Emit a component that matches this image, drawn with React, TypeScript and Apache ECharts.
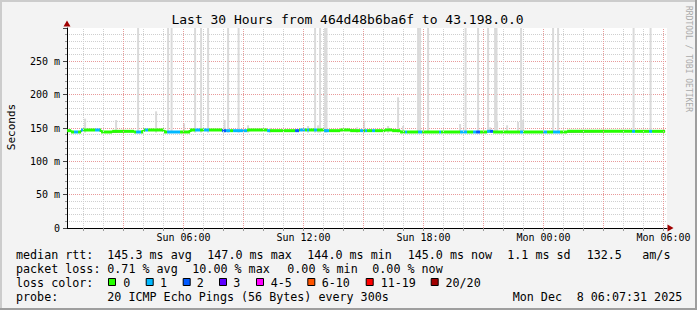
import React, { useEffect, useRef } from "react";
import * as echarts from "echarts";

const FONT = '"DejaVu Sans Mono", "Liberation Mono", monospace';

const TITLE = "Last 30 Hours from 464d48b6ba6f to 43.198.0.0";
const Y_NAME = "Seconds";
const WATERMARK = "RRDTOOL / TOBI OETIKER";

// x axis: hours since Sun 00:00
const xStartHour = 0.175;
const xEndHour = 30.175;
const xLabelHours = [6, 12, 18, 24, 30];
const gridHours = [1, 2, 3, 4, 5, 6, 7, 8, 9, 10, 11, 12, 13, 14, 15, 16, 17, 18, 19, 20, 21, 22, 23, 24, 25, 26, 27, 28, 29, 30];
const yMax = 300;
const yStep = 50;

// median rtt (ms) as step segments: start hour, value, loss class
const segStart = [0.18, 0.38, 0.53, 0.73, 0.88, 0.98, 1.58, 1.83, 1.88, 2.43,
  3.53, 3.63, 3.88, 3.98, 4.08, 4.23, 5.03, 5.18, 5.83, 6.33,
  6.58, 6.83, 7.03, 7.28, 7.93, 8.13, 8.33, 8.48, 9.18, 10.18,
  10.33, 11.58, 11.78, 11.83, 12.08, 12.18, 12.28, 12.53, 12.68, 13.03,
  13.28, 13.83, 14.33, 14.83, 14.98, 15.08, 15.18, 15.43, 15.58, 16.08,
  16.43, 16.83, 17.08, 17.18, 17.73, 17.93, 18.78, 18.88, 19.83, 20.18,
  20.48, 20.63, 20.83, 21.18, 21.33, 21.48, 21.83, 22.83, 22.98, 23.98,
  24.18, 24.48, 24.83, 25.18, 28.43, 28.58, 29.28, 29.43];
const segValue = [146, 144, 144, 144, 147, 147, 147, 147, 144, 145,
  144, 144, 144, 147, 147, 147, 144, 144, 144, 147,
  147, 147, 147, 147, 146, 146, 146, 146, 147, 146,
  146, 146, 147, 147, 147, 147, 147, 147, 147, 146,
  146, 147, 146, 146, 146, 146, 146, 146, 146, 147,
  146, 144, 144, 144, 144, 144, 144, 144, 144, 144,
  144, 144, 144, 145, 145, 144, 144, 144, 144, 144,
  144, 144, 144, 145, 145, 145, 145, 145];
const segLoss = [0, 0, 1, 0, 1, 0, 1, 0, 0, 0,
  0, 1, 0, 0, 1, 0, 0, 1, 0, 0,
  1, 0, 1, 0, 2, 1, 0, 1, 0, 1,
  0, 2, 0, 1, 0, 1, 0, 1, 0, 1,
  0, 0, 0, 1, 0, 1, 0, 1, 0, 0,
  0, 0, 1, 0, 1, 0, 1, 0, 1, 0,
  1, 2, 0, 1, 2, 0, 0, 1, 0, 1,
  0, 1, 0, 0, 1, 0, 1, 0];
const lastHour = 30.08;

// smoke (ping spread): hour and highest rtt (ms)
const smokeHour = [1.08, 2.63, 3.73, 4.63, 5.23, 5.405, 6.03, 6.58, 6.88, 7.23,
  8.055, 8.23, 8.755, 9.23, 10.33, 12.23, 12.58, 12.73, 12.83, 13.08,
  13.15, 14.68, 15.03, 16.23, 16.73, 16.98, 17.73, 17.83, 18.23, 19.83,
  20.105, 20.73, 21.23, 21.33, 21.58, 21.65, 21.68, 22.18, 22.73, 22.88,
  22.98, 24.48, 24.73, 28.505, 29.355];
const smokeTop = [164, 162, 300, 175, 300, 300, 157, 300, 300, 300,
  162, 300, 300, 154, 150, 153, 300, 154, 300, 300,
  300, 151, 161, 153, 196, 153, 300, 300, 300, 156,
  300, 300, 300, 151, 300, 300, 159, 154, 159, 300,
  162, 300, 300, 300, 300];
const smokeBottom = 143;

const lossLabels = ["0", "1", "2", "3", "4-5", "6-10", "11-19", "20/20"];
const lossColors = ["#26ff00", "#00b8ff", "#0059ff", "#5e00ff", "#ff00ff", "#ff5500", "#ff0000", "#a10000"];

const rttTexts = ["median rtt:", "145.3 ms avg", "147.0 ms max", "144.0 ms min", "145.0 ms now", "1.1 ms sd", "132.5", "am/s"];
const pktTexts = ["packet loss:", "0.71 % avg", "10.00 % max", "0.00 % min", "0.00 % now"];
const lossRowLabel = "loss color:";
const probeTexts = ["probe:", "20 ICMP Echo Pings (56 Bytes) every 300s", "Mon Dec", "8 06:07:31 2025"];

// layout (pixels)
const rttX = [16, 107.3, 207.3, 307.3, 407.7, 507.3, 586.7, 642.3];
const pktX = [16, 107.3, 192.3, 287.3, 372.3];
const probeX = [16, 107.3, 512.7, 576.7];
const boxX = [108, 145.7, 182.7, 219, 256, 307.3, 365.7, 430.7];
const boxLabelX = [123.3, 160, 196.7, 233.3, 270.7, 321.7, 380.7, 445.5];
const rowY = [254.5, 268.5, 282.5, 296.5];

const SMOKE_W = 0.1;
const GRID_GRAY = "#cfcfcf";
const GRID_RED = "#e89a9a";

function dayLabel(h: number): string {
  const day = h < 24 ? "Sun" : "Mon";
  const hh = h % 24;
  return `${day} ${hh < 10 ? "0" + hh : hh}:00`;
}

export default function App() {
  const ref = useRef<HTMLDivElement>(null);
  useEffect(() => {
    if (!ref.current) return;
    const chart = echarts.init(ref.current, null, { renderer: "svg" });

    const medianLine = segStart.map((h, i) => [h, segValue[i]]);
    medianLine.push([lastHour, segValue[segValue.length - 1]]);

    const segData = segStart.map((h, i) => [
      h,
      i + 1 < segStart.length ? segStart[i + 1] : lastHour,
      segValue[i],
      segLoss[i],
      i > 0 ? segValue[i - 1] : segValue[i],
      i > 0 ? segLoss[i - 1] : -1,
    ]);

    const smokeData = smokeHour.map((h, i) => [h, smokeBottom, smokeTop[i]]);

    const textEl = (text: string, x: number, y: number, size: number, extra: any = {}) => ({
      type: "text",
      x,
      y,
      silent: true,
      style: {
        text,
        fill: "#000",
        font: `${size}px ${FONT}`,
        textAlign: "left",
        textVerticalAlign: "middle",
        ...extra,
      },
    });

    const graphics: any[] = [];
    // frame
    graphics.push({ type: "rect", silent: true, z: -10, shape: { x: 0, y: 0, width: 697, height: 2 }, style: { fill: "#cccccc" } });
    graphics.push({ type: "rect", silent: true, z: -10, shape: { x: 0, y: 0, width: 2, height: 310 }, style: { fill: "#cccccc" } });
    graphics.push({ type: "rect", silent: true, z: -10, shape: { x: 0, y: 308, width: 697, height: 2 }, style: { fill: "#9e9e9e" } });
    graphics.push({ type: "rect", silent: true, z: -10, shape: { x: 695, y: 0, width: 2, height: 310 }, style: { fill: "#9e9e9e" } });

    graphics.push(textEl(TITLE, 347.5, 19.5, 13, { textAlign: "center" }));
    graphics.push({ ...textEl(Y_NAME, 11, 127, 11, { textAlign: "center" }), rotation: Math.PI / 2 });
    graphics.push({ ...textEl(WATERMARK, 688, 59, 8, { textAlign: "center", fill: "#aaaaaa" }), rotation: -Math.PI / 2 });

    // axis arrows
    graphics.push({ type: "polygon", silent: true, z: 100, shape: { points: [[63.5, 26.5], [70.5, 26.5], [67, 20.5]] }, style: { fill: "#a00000" } });
    graphics.push({ type: "polygon", silent: true, z: 100, shape: { points: [[667.5, 224.5], [667.5, 231.5], [673.5, 228]] }, style: { fill: "#a00000" } });

    rttTexts.forEach((t, i) => graphics.push(textEl(t, rttX[i], rowY[0], 11.7)));
    pktTexts.forEach((t, i) => graphics.push(textEl(t, pktX[i], rowY[1], 11.7)));
    graphics.push(textEl(lossRowLabel, 16, rowY[2], 11.7));
    lossLabels.forEach((t, i) => {
      graphics.push({
        type: "rect",
        silent: true,
        shape: { x: boxX[i] + 0.5, y: 278.5, width: 7, height: 7 },
        style: { fill: lossColors[i], stroke: "#000", lineWidth: 1 },
      });
      graphics.push(textEl(t, boxLabelX[i], rowY[2], 11.7));
    });
    probeTexts.forEach((t, i) => graphics.push(textEl(t, probeX[i], rowY[3], 11.7)));

    chart.setOption({
      animation: false,
      backgroundColor: "#f3f3f3",
      grid: {
        left: 67,
        right: 30,
        top: 28,
        bottom: 82,
        show: true,
        backgroundColor: "#ffffff",
        borderWidth: 0,
      },
      xAxis: {
        type: "value",
        min: xStartHour,
        max: xEndHour,
        axisLine: { show: true, lineStyle: { color: "#000", width: 1 } },
        axisTick: { show: true, customValues: gridHours, length: 3, lineStyle: { color: "#999" } },
        axisLabel: {
          customValues: xLabelHours,
          formatter: (v: number) => dayLabel(Math.round(v)),
          color: "#000",
          fontFamily: FONT,
          fontSize: 10,
          margin: 4,
        },
        splitLine: { show: false },
      },
      yAxis: {
        type: "value",
        min: 0,
        max: yMax,
        interval: yStep,
        axisLine: { show: true, lineStyle: { color: "#000", width: 1 } },
        axisTick: { show: true, length: 4, lineStyle: { color: "#444" } },
        minorTick: { show: true, splitNumber: 5, length: 2, lineStyle: { color: "#999" } },
        axisLabel: {
          formatter: (v: number) => (v === 0 ? "0" : v === yMax ? "" : `${v} m`),
          color: "#000",
          fontFamily: FONT,
          fontSize: 10,
          margin: 7,
          showMaxLabel: false,
        },
        splitLine: { show: true, showMaxLine: false, lineStyle: { color: GRID_RED, type: [1, 1], width: 1 } },
        minorSplitLine: { show: true, lineStyle: { color: GRID_GRAY, type: [1, 1], width: 1 } },
      },
      graphic: graphics,
      series: [
        {
          name: "grid",
          type: "line",
          z: 1,
          silent: true,
          data: [[xStartHour, 0]],
          showSymbol: false,
          lineStyle: { width: 0 },
          markLine: {
            silent: true,
            symbol: ["none", "none"],
            label: { show: false },
            data: gridHours.map((h) => ({
              xAxis: h,
              lineStyle: { color: h % 3 === 0 ? GRID_RED : GRID_GRAY, type: [1, 1], width: 1 },
            })),
          },
        },
        {
          name: "smoke",
          type: "custom",
          z: 2,
          silent: true,
          encode: { x: 0, y: [1, 2] },
          data: smokeData,
          renderItem: (params: any, api: any) => {
            const h = api.value(0);
            const lo = api.value(1);
            const hi = api.value(2);
            const p0 = api.coord([h - SMOKE_W / 2, hi]);
            const p1 = api.coord([h + SMOKE_W / 2, lo]);
            return {
              type: "rect",
              shape: { x: p0[0], y: p0[1], width: p1[0] - p0[0], height: p1[1] - p0[1] },
              style: { fill: "#dadada" },
            };
          },
        },
        {
          name: "median",
          type: "line",
          z: 3,
          silent: true,
          step: "end",
          showSymbol: false,
          data: medianLine,
          lineStyle: { color: "#202020", width: 1 },
        },
        {
          name: "loss",
          type: "custom",
          z: 4,
          silent: true,
          encode: { x: [0, 1], y: 2 },
          data: segData,
          renderItem: (params: any, api: any) => {
            const h0 = api.value(0);
            const h1 = api.value(1);
            const v = api.value(2);
            const cls = api.value(3);
            const pv = api.value(4);
            const pc = api.value(5);
            const a = api.coord([h0, v]);
            const b = api.coord([h1, v]);
            const color = lossColors[cls];
            const children: any[] = [
              { type: "line", shape: { x1: a[0], y1: a[1], x2: b[0], y2: b[1] }, style: { stroke: color, lineWidth: 3 } },
            ];
            if (pc === cls && pv !== v) {
              const c = api.coord([h0, pv]);
              children.push({ type: "line", shape: { x1: a[0], y1: c[1], x2: a[0], y2: a[1] }, style: { stroke: color, lineWidth: 3 } });
            }
            return { type: "group", children };
          },
        },
      ],
    });
    return () => chart.dispose();
  }, []);
  return <div ref={ref} style={{ position: "absolute", left: 0, top: 0, width: 697, height: 310 }} />;
}
